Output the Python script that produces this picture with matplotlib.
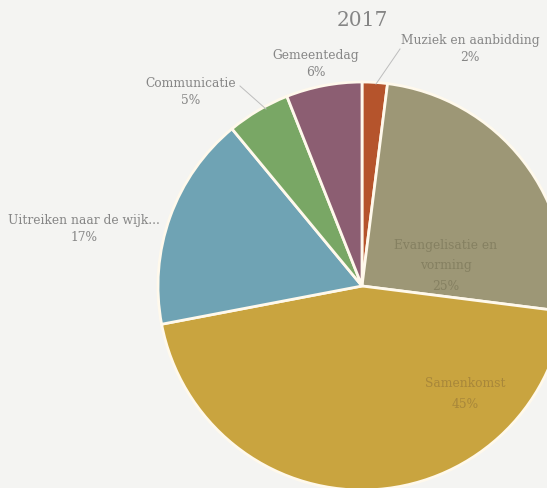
import matplotlib.pyplot as plt

# data
labels = ['Muziek en aanbidding', 'Evangelisatie en\nvorming', 'Samenkomst',
          'Uitreiken naar de wijk...', 'Communicatie', 'Gemeentedag']
values = [2, 25, 45, 17, 5, 6]
colors = ['#B5542C', '#9D9776', '#C9A43F', '#6FA3B4', '#79A765', '#8C5E72']

W, H = 547, 489
fig = plt.figure(figsize=(W / 100, H / 100), dpi=100)
fig.patch.set_facecolor('#F4F4F2')
ax = fig.add_axes([0, 0, 1, 1])

cx, cy, r = 362, H - 287, 204
wedges, _ = ax.pie(values, colors=colors, startangle=90, counterclock=False,
                   center=(cx, cy), radius=r, frame=True,
                   wedgeprops=dict(edgecolor='#FFF9EC', linewidth=2))
ax.set_xlim(0, W)
ax.set_ylim(0, H)
ax.set_aspect('equal')
ax.axis('off')

font = 'DejaVu Serif'
grey = '#868686'

ax.text(362, H - 21, '2017', ha='center', va='center', fontsize=14.5,
        color='#858585', family=font)

# outside labels (x, y in pixels from top)
outside = [
    (0, 470, 41),
    (5, 316, 56),
    (4, 191, 84),
    (3, 84, 221),
]
for i, x, y in outside:
    ax.text(x, H - y, labels[i], ha='center', va='center', fontsize=8.8,
            color=grey, family=font)
    ax.text(x, H - y - 17, f'{values[i]}%', ha='center', va='center',
            fontsize=8.8, color=grey, family=font)

# leader lines
ax.plot([376, 400], [H - 85, H - 50], color='#BDBDBD', lw=0.7)
ax.plot([240, 266], [H - 87, H - 110], color='#BDBDBD', lw=0.7)

# inside labels
ax.text(446, H - 266, labels[1] + f'\n{values[1]}%', ha='center', va='center',
        fontsize=8.8, color='#858061', family=font, linespacing=1.75)
ax.text(465, H - 394, labels[2] + f'\n{values[2]}%', ha='center', va='center',
        fontsize=8.8, color='#A8873A', family=font, linespacing=1.75)

fig.savefig('out.png', dpi=100, facecolor=fig.get_facecolor())
